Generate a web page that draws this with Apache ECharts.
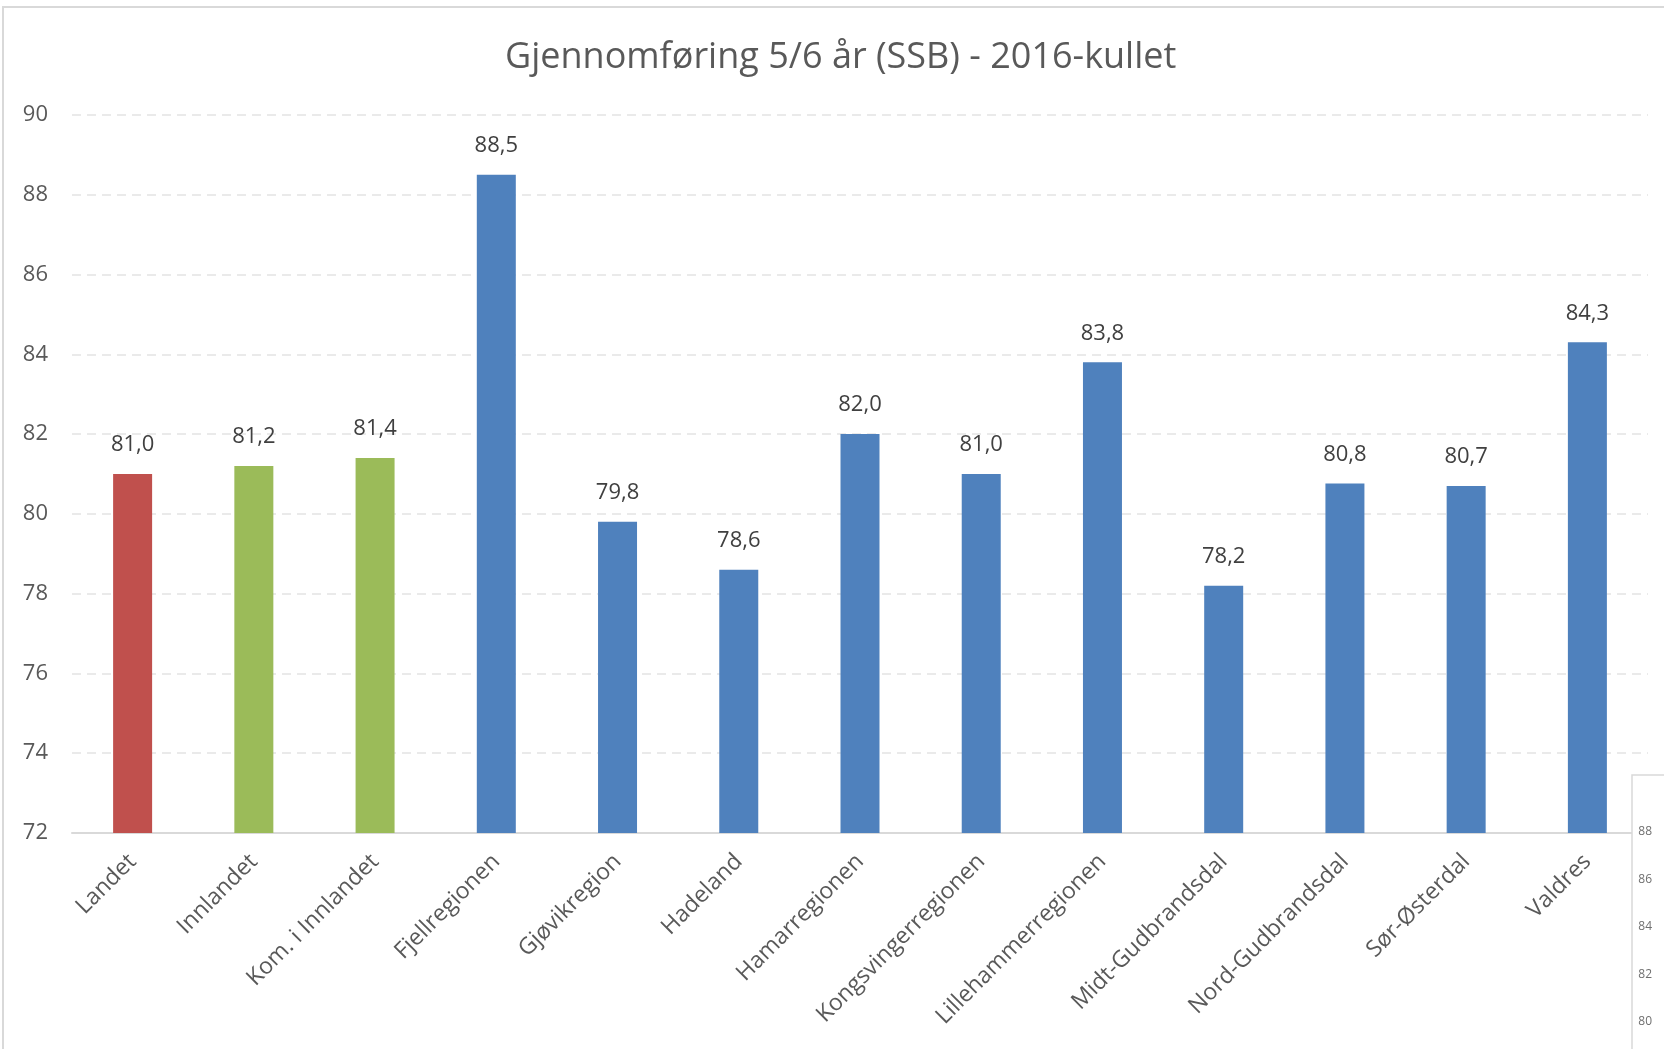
<!DOCTYPE html>
<html lang="no">
<head>
    <meta charset="UTF-8">
    <title>Gjennomføring 5/6 år</title>
</head>
<style>
    html, body { margin: 0; padding: 0; background: #fff; }
    #main { width: 1664px; height: 1049px; }
</style>
<body>
    <div id="main"></div>
    <script src="https://cdn.jsdelivr.net/npm/echarts@6/dist/echarts.min.js"></script>
    <script>
        const categories = ['Landet', 'Innlandet', 'Kom. i Innlandet', 'Fjellregionen', 'Gjøvikregion', 'Hadeland',
            'Hamarregionen', 'Kongsvingerregionen', 'Lillehammerregionen', 'Midt-Gudbrandsdal',
            'Nord-Gudbrandsdal', 'Sør-Østerdal', 'Valdres']
        const values = [81.0, 81.2, 81.4, 88.5, 79.8, 78.6, 82.0, 81.0, 83.8, 78.2, 80.76, 80.7, 84.3]
        const groups = ['land', 'fylke', 'fylke', 'region', 'region', 'region', 'region', 'region', 'region',
            'region', 'region', 'region', 'region']
        const groupColors = { land: '#C0504D', fylke: '#9BBB59', region: '#4F81BD' }
        // the clipped second chart on the right edge
        const insetTicks = [80, 82, 84, 86, 88]

        const font = '"Open Sans", sans-serif'
        const grey = '#595959'

        let chart = echarts.init(document.getElementById('main'))
        let option = {
            backgroundColor: '#fff',
            textStyle: { fontFamily: font },
            title: {
                text: 'Gjennomføring 5/6 år (SSB) - 2016-kullet',
                left: 500,
                top: 35,
                textStyle: { fontFamily: font, fontSize: 36, fontWeight: 'normal', color: grey }
            },
            grid: [
                { left: 72, right: 16, top: 115, bottom: 216 },
                { left: 1660, width: 2, top: 832, height: 190 }
            ],
            xAxis: [
                {
                    type: 'category',
                    gridIndex: 0,
                    data: categories,
                    axisTick: { show: false },
                    axisLine: { lineStyle: { color: '#d9d9d9', width: 2 } },
                    axisLabel: { rotate: 45, fontSize: 23, color: grey, margin: 25, interval: 0, fontFamily: font }
                },
                { type: 'value', gridIndex: 1, show: false }
            ],
            yAxis: [
                {
                    type: 'value',
                    gridIndex: 0,
                    min: 72,
                    max: 90,
                    interval: 2,
                    axisLine: { show: false },
                    axisTick: { show: false },
                    axisLabel: { fontSize: 22, color: grey, margin: 24, fontFamily: font },
                    splitLine: { lineStyle: { color: '#e4e4e4', type: [9, 6], width: 1.5 } }
                },
                {
                    type: 'value',
                    gridIndex: 1,
                    min: insetTicks[0],
                    max: insetTicks[insetTicks.length - 1],
                    interval: 2,
                    z: 100,
                    axisLine: { show: false },
                    axisTick: { show: false },
                    splitLine: { show: false },
                    axisLabel: { fontSize: 12, color: '#6f6f6f', margin: 8, fontFamily: font }
                }
            ],
            series: [{
                type: 'bar',
                xAxisIndex: 0,
                yAxisIndex: 0,
                barWidth: 39,
                data: values.map((v, i) => ({ value: v, itemStyle: { color: groupColors[groups[i]] } })),
                label: {
                    show: true,
                    position: 'top',
                    distance: 18,
                    fontSize: 22,
                    color: '#404040',
                    fontFamily: font,
                    formatter: p => p.value.toFixed(1).replace('.', ',')
                }
            }],
            graphic: [
                {
                    type: 'rect',
                    z: 90,
                    shape: { x: 3, y: 7, width: 1700, height: 1100 },
                    style: { fill: 'none', stroke: '#d9d9d9', lineWidth: 2 },
                    silent: true
                },
                {
                    type: 'rect',
                    z: 95,
                    shape: { x: 1632, y: 775, width: 60, height: 300 },
                    style: { fill: '#fff', stroke: '#d9d9d9', lineWidth: 1.5 },
                    silent: true
                }
            ]
        }
        chart.setOption(option)
    </script>
</body>
</html>
